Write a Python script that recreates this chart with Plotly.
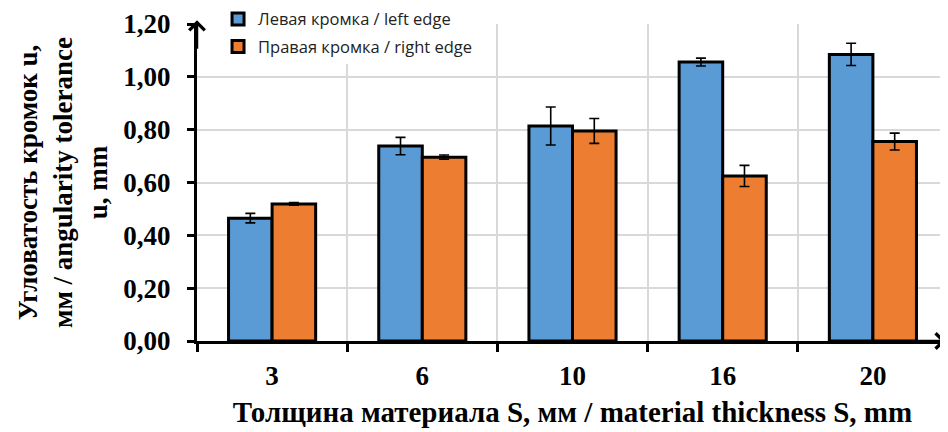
import plotly.graph_objects as go

categories = ["3", "6", "10", "16", "20"]
left_values = [0.465, 0.738, 0.814, 1.056, 1.085]
left_err = [0.018, 0.033, 0.072, 0.015, 0.042]
right_values = [0.519, 0.696, 0.795, 0.625, 0.755]
right_err = [0.005, 0.008, 0.047, 0.040, 0.032]
series_names = ["Левая кромка / left edge", "Правая кромка / right edge"]
colors = ["#5B9BD5", "#ED7D31"]
y_ticks = [0, 0.2, 0.4, 0.6, 0.8, 1.0, 1.2]

serif = "Liberation Serif, Times New Roman, serif"

fig = go.Figure()
for name, vals, errs, col, grp in [
    (series_names[0], left_values, left_err, colors[0], "a"),
    (series_names[1], right_values, right_err, colors[1], "b"),
]:
    fig.add_trace(go.Bar(
        x=categories, y=vals, name=name, legendgroup=grp,
        marker=dict(color=col, line=dict(color="black", width=3)),
        error_y=dict(type="data", array=errs, color="black", thickness=1.6, width=5),
    ))

n = len(categories)
fig.update_layout(
    width=948, height=432,
    margin=dict(l=189, r=8, t=16, b=99, autoexpand=False),
    plot_bgcolor="white", paper_bgcolor="white",
    separators=", ",
    barmode="group", bargap=0.42, bargroupgap=0,
    showlegend=True,
    legend=dict(x=0.028, y=1.07, xanchor="left", yanchor="top",
                bgcolor="white", font=dict(family="Open Sans, sans-serif", size=16.5, color="#222"),
                tracegroupgap=3, itemwidth=30),
    xaxis=dict(
        type="category", range=[-0.5, n - 0.5], tickson="boundaries",
        ticks="outside", ticklen=8, tickwidth=3, tickcolor="black",
        showline=True, linecolor="black", linewidth=3,
        showgrid=True, gridcolor="#D9D9D9", gridwidth=1.5,
        tickfont=dict(family=serif, size=27, color="black", weight="bold"),
        ticklabelstandoff=9,
        title=dict(text="<b>Толщина материала S, мм / material thickness S, mm</b>",
                   font=dict(family=serif, size=29, color="black"), standoff=12),
        zeroline=False,
    ),
    yaxis=dict(
        range=[0, 1.2], tickvals=y_ticks, tickformat=".2f",
        ticks="outside", ticklen=7, tickwidth=3, tickcolor="black",
        showline=True, linecolor="black", linewidth=3,
        showgrid=True, gridcolor="#D9D9D9", gridwidth=1.5,
        tickfont=dict(family=serif, size=27, color="black", weight="bold"),
        ticklabelstandoff=11,
        title=dict(text="<b>Угловатость кромок u,<br>мм / angularity tolerance<br>u, mm</b>",
                   font=dict(family=serif, size=27, color="black"), standoff=8),
        zeroline=False,
    ),
    xaxis2=dict(
        overlaying="x", anchor="y", range=[-0.5, n - 0.5],
        tickvals=[i + 0.5 for i in range(n - 1)],
        ticks="inside", ticklen=8, tickwidth=3, tickcolor="black",
        showticklabels=False, showgrid=False, showline=False, zeroline=False,
    ),
    yaxis2=dict(
        overlaying="y", anchor="x", range=[0, 1.2], tickvals=y_ticks,
        ticks="inside", ticklen=7, tickwidth=3, tickcolor="black",
        showticklabels=False, showgrid=False, showline=False, zeroline=False,
    ),
)

# axis arrowheads
fig.add_annotation(xref="paper", yref="paper", x=0, y=1.012, ax=0, ay=30,
                   showarrow=True, arrowhead=4, arrowsize=1.2, arrowwidth=2.5,
                   arrowcolor="black", text="")
fig.add_annotation(xref="paper", yref="paper", x=0.997, y=0, ax=-30, ay=0,
                   showarrow=True, arrowhead=4, arrowsize=1.2, arrowwidth=2.5,
                   arrowcolor="black", text="")

fig.write_html("out.html")
